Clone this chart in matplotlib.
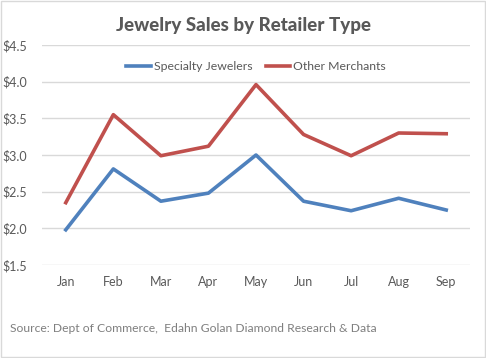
import matplotlib
matplotlib.use("Agg")
import matplotlib.pyplot as plt
from matplotlib.patches import Rectangle

months = ["Jan", "Feb", "Mar", "Apr", "May", "Jun", "Jul", "Aug", "Sep"]
specialty = [1.98, 2.81, 2.37, 2.48, 3.00, 2.37, 2.24, 2.41, 2.25]
other = [2.35, 3.55, 2.99, 3.12, 3.96, 3.28, 2.99, 3.30, 3.29]
yticks = [1.5, 2.0, 2.5, 3.0, 3.5, 4.0, 4.5]
ytick_labels = ["$1.5", "$2.0", "$2.5", "$3.0", "$3.5", "$4.0", "$4.5"]

plt.rcParams['font.family'] = ['Lato', 'DejaVu Sans']
txt = "#595959"

fig = plt.figure(figsize=(4.86, 3.58), dpi=100)
fig.patches.append(Rectangle((0.002, 0.003), 0.995, 0.993, transform=fig.transFigure,
                             fill=False, edgecolor="#D9D9D9", linewidth=1))
ax = fig.add_axes([42/486, 1-265/358, 428/486, (265-45)/358])

x = list(range(len(months)))
ax.plot(x, specialty, color="#4F81BD", linewidth=2.6, label="Specialty Jewelers", solid_joinstyle="round")
ax.plot(x, other, color="#C0504D", linewidth=2.6, label="Other Merchants", solid_joinstyle="round")

ax.set_xlim(-0.5, len(months) - 0.5)
ax.set_ylim(1.5, 4.5)
ax.set_yticks(yticks)
ax.set_yticklabels(ytick_labels)
ax.set_xticks(x)
ax.set_xticklabels(months)
ax.grid(axis="y", color="#D9D9D9", linewidth=1)
ax.set_axisbelow(True)
for s in ax.spines.values():
    s.set_visible(False)
ax.tick_params(axis="both", length=0, labelsize=9, labelcolor=txt)
ax.tick_params(axis="y", pad=11)
ax.tick_params(axis="x", pad=8)

leg = ax.legend(loc="center", bbox_to_anchor=(0.5, 1 - (67-45)/220), ncol=2, frameon=False,
                fontsize=8.8, handlelength=2.0, columnspacing=1.1, handletextpad=0.25,
                labelcolor=txt)

fig.text(0.5, 1 - 25/358, "Jewelry Sales by Retailer Type", ha="center", va="center",
         fontsize=13.5, fontweight=900, color=txt)
fig.text(10/486, 1 - 329/358, "Source: Dept of Commerce,  Edahn Golan Diamond Research & Data",
         ha="left", va="center", fontsize=8.75, color="#7F7F7F")

fig.savefig("out.png", dpi=100)
